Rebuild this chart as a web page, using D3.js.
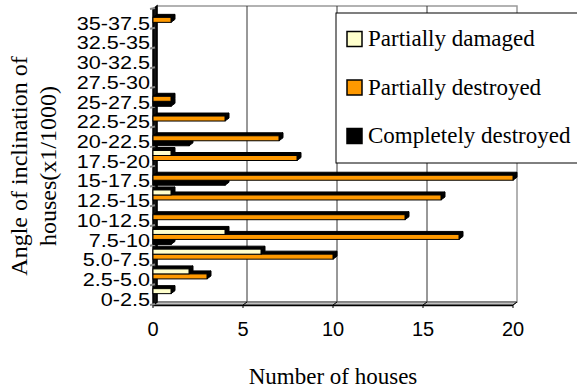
<!DOCTYPE html>
<html>
<head>
<meta charset="utf-8">
<script src="https://cdn.jsdelivr.net/npm/d3@7"></script>
<style>
  body { margin: 0; background: #fff; }
</style>
</head>
<body>
<div id="chart"></div>
<script>
const categories = ['0-2.5', '2.5-5.0', '5.0-7.5', '7.5-10', '10-12.5', '12.5-15', '15-17.5',
  '17.5-20', '20-22.5', '22.5-25', '25-27.5', '27.5-30', '30-32.5', '32.5-35', '35-37.5']
const partiallyDamaged = [1, 2, 6, 4, 0, 1, 0, 1, 0, 0, 0, 0, 0, 0, 0]
const partiallyDestroyed = [0, 3, 10, 17, 14, 16, 20, 8, 7, 4, 1, 0, 0, 0, 1]
const completelyDestroyed = [0, 0, 0, 1, 0, 0, 4, 0, 2, 0, 1, 0, 0, 0, 0]
const seriesNames = ['Partially damaged', 'Partially destroyed', 'Completely destroyed']
const seriesColors = ['#ffffcc', '#ff9900', '#000000']
const xTicks = [0, 5, 10, 15, 20]

const width = 577
const height = 391
// 3d depth offset of the plot box
const dx = 4
const dy = 3

const svg = d3
  .select('#chart')
  .append('svg')
  .attr('width', width)
  .attr('height', height)

const x = d3.scaleLinear().domain([0, 20]).range([153, 513])
// top of the chart is the last category
const y = d3.scaleBand().domain(categories.slice().reverse()).range([9, 305])
const groupH = 15
const sub = d3.scaleBand().domain(seriesNames).range([0, groupH])
const color = d3.scaleOrdinal().domain(seriesNames).range(seriesColors)

const plotTop = y.range()[0]
const plotBottom = y.range()[1]

// back wall
svg
  .append('rect')
  .attr('x', x(0) + dx)
  .attr('y', plotTop - dy)
  .attr('width', x(20) - x(0))
  .attr('height', plotBottom - plotTop)
  .attr('fill', '#fff')
  .attr('stroke', '#999')
  .attr('stroke-width', 1.5)

// grid lines on the back wall
svg
  .selectAll('.grid')
  .data(xTicks.filter(d => d > 0 && d < 20))
  .enter()
  .append('line')
  .attr('x1', d => x(d) + dx)
  .attr('x2', d => x(d) + dx)
  .attr('y1', plotTop - dy)
  .attr('y2', plotBottom - dy)
  .attr('stroke', '#333')
  .attr('stroke-width', 1)

// floor
svg
  .append('polygon')
  .attr('points', [
    [x(0), plotBottom], [x(20), plotBottom], [x(20) + dx, plotBottom - dy], [x(0) + dx, plotBottom - dy]
  ].join(' '))
  .attr('fill', '#c0c0c0')
  .attr('stroke', '#555')
  .attr('stroke-width', 1)

svg
  .append('line')
  .attr('x1', x(0))
  .attr('x2', x(20))
  .attr('y1', plotBottom + 0.5)
  .attr('y2', plotBottom + 0.5)
  .attr('stroke', '#000')
  .attr('stroke-width', 1.5)

svg
  .selectAll('.xtick')
  .data(xTicks)
  .enter()
  .append('path')
  .attr('d', d => `M${x(d)},${plotBottom + 3}L${x(d)},${plotBottom}L${x(d) + dx},${plotBottom - dy}`)
  .attr('fill', 'none')
  .attr('stroke', '#000')
  .attr('stroke-width', 1)

// left wall
svg
  .append('polygon')
  .attr('points', [
    [x(0), plotTop], [x(0) + dx, plotTop - dy], [x(0) + dx, plotBottom - dy], [x(0), plotBottom]
  ].join(' '))
  .attr('fill', '#111')
  .attr('stroke', '#000')
  .attr('stroke-width', 1.5)

svg
  .selectAll('.ytick')
  .data(categories.concat(['end']))
  .enter()
  .append('line')
  .attr('x1', x(0) - 3)
  .attr('x2', x(0) + 2)
  .attr('y1', (d, i) => plotBottom - i * y.step())
  .attr('y2', (d, i) => plotBottom - i * y.step() - 1)
  .attr('stroke', '#888')
  .attr('stroke-width', 2)

// bars, drawn from the bottom up so upper faces cover lower top faces
const rows = categories.map((c, i) => ({
  cat: c,
  values: [partiallyDamaged[i], partiallyDestroyed[i], completelyDestroyed[i]]
}))

const bars = svg.append('g')

rows.forEach(row => {
  const g0 = y(row.cat) + (y.step() - groupH) / 2 + 1
  for (let s = seriesNames.length - 1; s >= 0; s--) {
    const v = row.values[s]
    if (v <= 0) continue
    const name = seriesNames[s]
    const y0 = g0 + sub(name)
    const h = sub.bandwidth()
    const x0 = x(0)
    const x1 = x(v)
    bars
      .append('polygon')
      .attr('points', [[x1, y0], [x1 + dx, y0 - dy], [x1 + dx, y0 + h - dy], [x1, y0 + h]].join(' '))
      .attr('fill', '#000')
      .attr('stroke', '#000')
    bars
      .append('polygon')
      .attr('points', [[x0, y0], [x1, y0], [x1 + dx, y0 - dy], [x0 + dx, y0 - dy]].join(' '))
      .attr('fill', '#000')
      .attr('stroke', '#000')
    bars
      .append('rect')
      .attr('x', x0)
      .attr('y', y0)
      .attr('width', x1 - x0)
      .attr('height', h)
      .attr('fill', color(name))
      .attr('stroke', '#000')
      .attr('stroke-width', 1)
  }
})

// category labels (slightly stretched horizontally like the original)
svg
  .selectAll('.cat-label')
  .data(categories)
  .enter()
  .append('text')
  .text(d => d)
  .attr('transform', d => `translate(150,${y(d) + y.bandwidth() / 2 + 6}) scale(1.2,1)`)
  .attr('text-anchor', 'end')
  .attr('dominant-baseline', 'middle')
  .style('font-family', 'Liberation Sans, Arial, sans-serif')
  .style('font-size', '18px')

// value labels
svg
  .selectAll('.x-label')
  .data(xTicks)
  .enter()
  .append('text')
  .text(d => d)
  .attr('x', d => x(d))
  .attr('y', 331)
  .attr('text-anchor', 'middle')
  .attr('dominant-baseline', 'middle')
  .style('font-family', 'Liberation Sans, Arial, sans-serif')
  .style('font-size', '20px')

// axis titles
svg
  .append('text')
  .text('Number of houses')
  .attr('x', (x(0) + x(20)) / 2)
  .attr('y', 384)
  .attr('text-anchor', 'middle')
  .style('font-family', 'Liberation Serif, Times New Roman, serif')
  .style('font-size', '23px')

const yTitle = ['Angle of inclination of', 'houses(x1/1000)']
svg
  .selectAll('.y-title')
  .data(yTitle)
  .enter()
  .append('text')
  .text(d => d)
  .attr('transform', (d, i) => `translate(${27 + i * 29},166) rotate(-90)`)
  .attr('text-anchor', 'middle')
  .style('font-family', 'Liberation Serif, Times New Roman, serif')
  .style('font-size', '24px')

// legend
const legend = svg.append('g')
legend
  .append('rect')
  .attr('x', 336)
  .attr('y', 13)
  .attr('width', 300)
  .attr('height', 150)
  .attr('fill', '#fff')
  .attr('stroke', '#000')
  .attr('stroke-width', 1)

const item = legend
  .selectAll('.legend-item')
  .data(seriesNames)
  .enter()
  .append('g')
  .attr('transform', (d, i) => `translate(347,${39 + i * 48.5})`)

item
  .append('rect')
  .attr('x', 0)
  .attr('y', -7.5)
  .attr('width', 15)
  .attr('height', 15)
  .attr('fill', d => color(d))
  .attr('stroke', '#000')
  .attr('stroke-width', 1.5)

item
  .append('text')
  .text(d => d)
  .attr('x', 21)
  .attr('y', 7)
  .style('font-family', 'Liberation Serif, Times New Roman, serif')
  .style('font-size', '23px')
</script>
</body>
</html>
